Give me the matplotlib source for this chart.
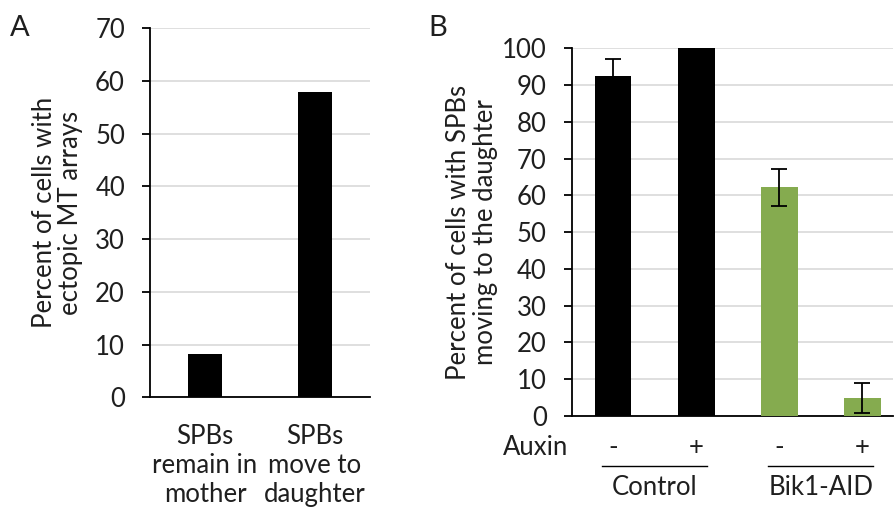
import matplotlib
matplotlib.use("Agg")
import matplotlib.pyplot as plt

plt.rcParams['font.family'] = ['Lato', 'DejaVu Sans']

# ------------------------------------------------------------
# Data
# ------------------------------------------------------------
a_labels = ["SPBs\nremain in\nmother", "SPBs\nmove to\ndaughter"]
a_values = [8.2, 57.9]

b_auxin = ["-", "+", "-", "+"]
b_values = [92.4, 100.0, 62.2, 4.9]
b_errors = [4.6, 0.0, 5.0, 4.2]
b_groups = ["Control", "Bik1-AID"]

W, H = 894, 508
TXT = "#1f1f1f"
GRID = "#D9D9D9"
GREEN = "#85AB4F"
FS = 18.5


def px_axes(fig, left, top, right, bottom):
    """Add axes using pixel coordinates measured from the top-left."""
    return fig.add_axes([left / W, (H - bottom) / H, (right - left) / W, (bottom - top) / H])


def style_axes(ax, ymax, step):
    ax.set_ylim(0, ymax)
    ax.set_yticks(range(0, ymax + 1, step))
    ax.yaxis.grid(True, color=GRID, linewidth=1.2)
    ax.set_axisbelow(True)
    for s in ["top", "right"]:
        ax.spines[s].set_visible(False)
    for s in ["left", "bottom"]:
        ax.spines[s].set_linewidth(1.3)
        ax.spines[s].set_color("black")
    ax.tick_params(axis="y", length=6, width=1.3, labelsize=FS, labelcolor=TXT, pad=12)
    ax.tick_params(axis="x", length=0, labelsize=FS, labelcolor=TXT)


fig = plt.figure(figsize=(W / 100, H / 100), dpi=100)

# ------------------------------------------------------------
# Panel A
# ------------------------------------------------------------
axA = px_axes(fig, 150, 28.3, 370, 397.3)
axA.bar(range(len(a_values)), a_values, width=0.31, color="black", zorder=3)
style_axes(axA, 70, 10)
axA.set_xlim(-0.5, 1.5)
axA.set_xticks(range(len(a_labels)))
axA.set_xticklabels(a_labels, linespacing=1.22)
axA.tick_params(axis="x", pad=19)
axA.set_ylabel("Percent of cells with\nectopic MT arrays", fontsize=FS, color=TXT,
               linespacing=1.04, labelpad=9)
fig.text(10 / W, 1 - 28 / H, "A", fontsize=21, color=TXT, va="center", ha="left")

# ------------------------------------------------------------
# Panel B
# ------------------------------------------------------------
axB = px_axes(fig, 571.7, 48.3, 893, 416)
colors = ["black", "black", GREEN, GREEN]
x = range(len(b_values))
axB.bar(x, b_values, width=0.44, color=colors, zorder=3)
errs = [e if e > 0 else float("nan") for e in b_errors]
axB.errorbar(x, b_values, yerr=errs, fmt="none", ecolor="black", elinewidth=1.3,
             capsize=6, capthick=1.3, zorder=4)
style_axes(axB, 100, 10)
axB.set_xlim(-0.5, 3.37)
axB.set_xticks(list(x))
axB.set_xticklabels(b_auxin)
axB.tick_params(axis="x", pad=14)
axB.set_ylabel("Percent of cells with SPBs\nmoving to the daughter", fontsize=FS, color=TXT,
               linespacing=1.1, labelpad=3)

tr = axB.get_xaxis_transform()
axB.text(-0.54, -0.087, "Auxin", transform=tr, ha="right", va="center",
         fontsize=FS, color=TXT, clip_on=False)
for i, name in enumerate(b_groups):
    x0 = 2 * i
    axB.plot([x0 - 0.14, x0 + 1.13], [-0.135, -0.135], transform=tr, color="black",
             linewidth=1.0, clip_on=False)
    axB.text(x0 + 0.5, -0.195, name, transform=tr, ha="center", va="center",
             fontsize=FS, color=TXT, clip_on=False)
fig.text(428 / W, 1 - 28 / H, "B", fontsize=21, color=TXT, va="center", ha="left")

fig.savefig("out.png", dpi=100)
